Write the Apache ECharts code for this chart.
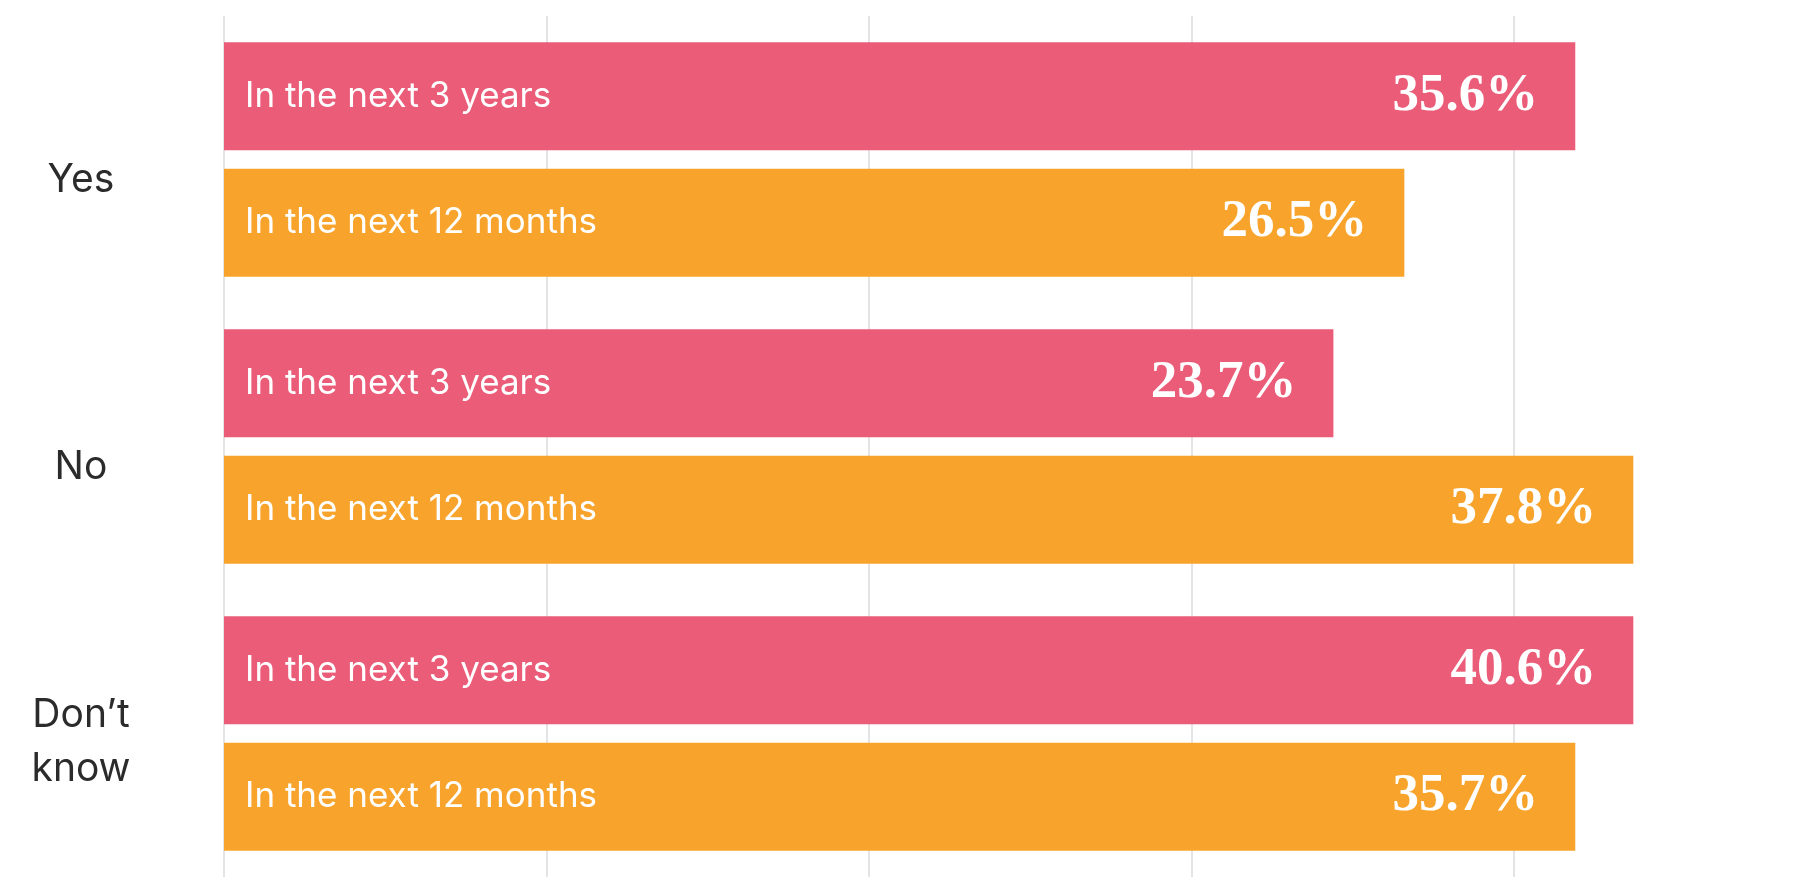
<!DOCTYPE html>
<html>
<head>
<meta charset="utf-8">
<title>Plans by group</title>
<script src="https://cdn.jsdelivr.net/npm/echarts@6/dist/echarts.min.js"></script>
<style>
  html, body { margin: 0; padding: 0; background: #fff; }
  #chart { width: 1814px; height: 888px; }
</style>
</head>
<body>
<div id="chart"></div>
<script>
// categories and series
const groups = ['Yes', 'No', 'Don’t\nknow']
const seriesNames = ['In the next 3 years', 'In the next 12 months']
// printed shares (labels)
const share3y = [35.6, 23.7, 40.6]
const share12m = [26.5, 37.8, 35.7]
// bar lengths as drawn, read against the gridlines (10 per line)
const bar3y = [41.9, 34.4, 43.7]
const bar12m = [36.6, 43.7, 41.9]

const pink = '#ea5c78'
const orange = '#f8a42c'

const chart = echarts.init(document.getElementById('chart'))

function valueBars(name, values, shares, color) {
  return {
    name: name,
    type: 'bar',
    yAxisIndex: 0,
    data: values,
    barWidth: 108,
    barGap: '17%',
    itemStyle: { color: color },
    label: {
      show: true,
      position: 'insideRight',
      distance: 37,
      color: '#fff',
      fontFamily: 'Liberation Serif',
      fontWeight: 'bold',
      fontSize: 53,
      formatter: function(p) {
        return shares[p.dataIndex].toFixed(1) + '%'
      }
    }
  }
}

function nameBars(name, values) {
  // same bars on a twin axis, only carrying the series name on the left
  return {
    name: name,
    type: 'bar',
    yAxisIndex: 1,
    data: values,
    barWidth: 108,
    barGap: '17%',
    itemStyle: { color: 'rgba(0,0,0,0)' },
    label: {
      show: true,
      position: 'insideLeft',
      distance: 21,
      color: '#fff',
      fontFamily: 'Inter',
      fontSize: 35,
      formatter: name
    }
  }
}

const option = {
  animation: false,
  backgroundColor: '#fff',
  grid: {
    left: 224,
    right: 42,
    top: 16,
    bottom: 11
  },
  xAxis: {
    type: 'value',
    min: 0,
    max: 48,
    interval: 10,
    axisLine: { show: false },
    axisTick: { show: false },
    axisLabel: { show: false },
    splitLine: {
      show: true,
      showMinLine: true,
      showMaxLine: false,
      lineStyle: { color: '#e4e4e6', width: 2 }
    }
  },
  yAxis: [{
    type: 'category',
    data: groups,
    inverse: true,
    axisLine: { show: false },
    axisTick: { show: false },
    axisLabel: {
      color: '#2b2b2b',
      fontFamily: 'Inter',
      fontSize: 39,
      align: 'center',
      margin: 143,
      // group names sit a little below the middle of their pair of bars
      formatter: function(value) {
        const lines = value.split('\n')
        const spacer = lines.length > 1 ? '{sb| }' : '{sa| }'
        return spacer + '\n' + lines.map(function(l) {
          return '{t|' + l + '}'
        }).join('\n')
      },
      rich: {
        sa: { lineHeight: 42, fontSize: 12 },
        sb: { lineHeight: 18, fontSize: 12 },
        t: {
          color: '#2b2b2b',
          fontFamily: 'Inter',
          fontSize: 39,
          lineHeight: 54
        }
      }
    }
  }, {
    type: 'category',
    data: groups,
    inverse: true,
    show: false
  }],
  series: [
    valueBars(seriesNames[0], bar3y, share3y, pink),
    valueBars(seriesNames[1], bar12m, share12m, orange),
    nameBars(seriesNames[0], bar3y),
    nameBars(seriesNames[1], bar12m)
  ]
}

chart.setOption(option)
</script>
</body>
</html>
